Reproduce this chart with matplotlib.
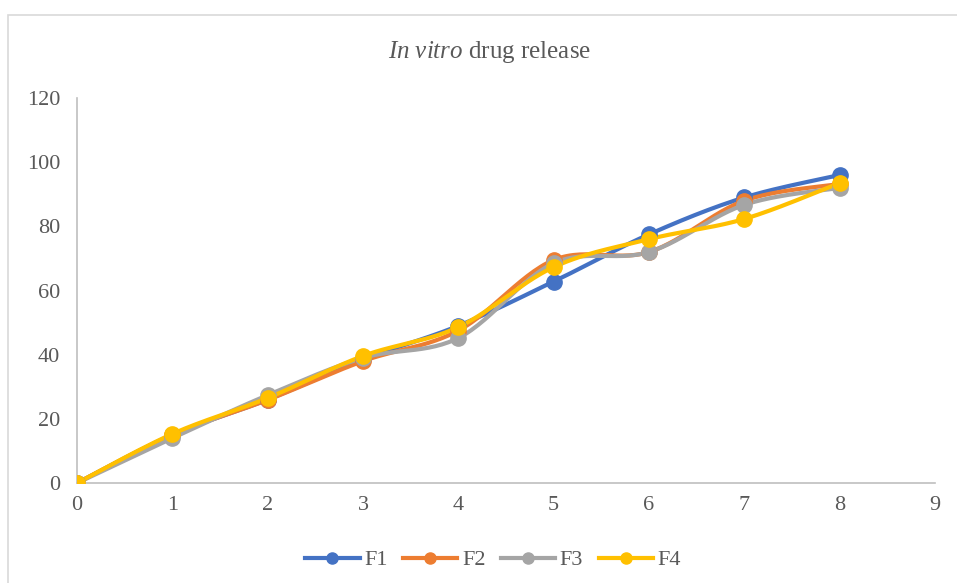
import numpy as np
import matplotlib.pyplot as plt
from matplotlib.patches import Rectangle

plt.rcParams['font.family'] = ['Liberation Serif', 'DejaVu Serif']
plt.rcParams['mathtext.fontset'] = 'custom'
plt.rcParams['mathtext.it'] = 'Liberation Serif:italic'
plt.rcParams['mathtext.rm'] = 'Liberation Serif'

time_h = [0, 1, 2, 3, 4, 5, 6, 7, 8]
F1 = [0, 15, 26, 38.5, 49, 62.8, 77.5, 89, 96]
F2 = [0, 15, 25.9, 38, 47.5, 69.5, 72, 88, 93.2]
F3 = [0, 14, 27.4, 39, 45.2, 68.5, 72, 86.7, 92]
F4 = [0, 15.3, 26.5, 39.6, 48.6, 67.3, 76, 82.3, 93.5]

names = ['F1', 'F2', 'F3', 'F4']
colors = ['#4472C4', '#ED7D31', '#A5A5A5', '#FFC000']


def smooth(x, y, n=30):
    # Catmull-Rom style curve through the points, like Excel's smoothed line
    x = np.asarray(x, float)
    y = np.asarray(y, float)
    px = np.concatenate([[x[0]], x, [x[-1]]])
    py = np.concatenate([[y[0]], y, [y[-1]]])
    xs, ys = [], []
    t = np.linspace(0, 1, n)
    for i in range(1, len(px) - 2):
        p0 = np.array([px[i - 1], py[i - 1]])
        p1 = np.array([px[i], py[i]])
        p2 = np.array([px[i + 1], py[i + 1]])
        p3 = np.array([px[i + 2], py[i + 2]])
        c1 = p1 + (p2 - p0) / 6
        c2 = p2 - (p3 - p1) / 6
        pts = ((1 - t) ** 3)[:, None] * p1 + (3 * (1 - t) ** 2 * t)[:, None] * c1 \
            + (3 * (1 - t) * t ** 2)[:, None] * c2 + (t ** 3)[:, None] * p2
        xs.extend(pts[:, 0])
        ys.extend(pts[:, 1])
    return np.array(xs), np.array(ys)


fig = plt.figure(figsize=(9.57, 5.83), dpi=100)
fig.patches.append(Rectangle((8 / 957, -0.01), 1.0, 1 - 15 / 583 + 0.01,
                             transform=fig.transFigure, fill=False,
                             edgecolor='#D9D9D9', linewidth=1.2))
ax = fig.add_axes([0.0805, 0.1715, 0.8965, 0.6604])

for series, name, c in zip([F1, F2, F3, F4], names, colors):
    sx, sy = smooth(time_h, series)
    ax.plot(sx, sy, color=c, linewidth=3, solid_capstyle='round', zorder=2)
    ax.plot(time_h, series, 'o', color=c, markersize=11, zorder=3)
    ax.plot([], [], '-o', color=c, linewidth=3, markersize=8, label=name)

ax.set_xlim(0, 9)
ax.set_ylim(0, 120)
ax.set_xticks(range(0, 10))
ax.set_yticks(range(0, 121, 20))
for side in ['top', 'right']:
    ax.spines[side].set_visible(False)
for side in ['left', 'bottom']:
    ax.spines[side].set_color('#BFBFBF')
    ax.spines[side].set_linewidth(1.2)
ax.tick_params(length=0, labelsize=16, labelcolor='#595959')
ax.tick_params(axis='x', pad=9)
ax.tick_params(axis='y', pad=12)

fig.text(0.512, 0.911, r'$In\ vitro$ drug release', ha='center', va='center',
         fontsize=18, color='#595959')

ax.legend(loc='center', bbox_to_anchor=(0.485, -0.2), ncol=4, frameon=False,
          fontsize=16, labelcolor='#595959', handlelength=2.45,
          handletextpad=0.2, columnspacing=0.7)

fig.savefig('out.png', dpi=100)
